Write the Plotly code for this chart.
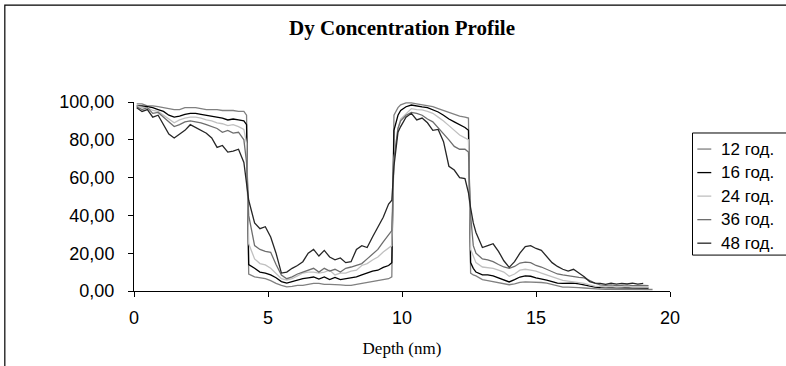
import plotly.graph_objects as go

# ---- data ----
depth = [0.1, 0.3, 0.5, 0.7, 0.9, 1.1, 1.3, 1.5, 1.7, 1.9, 2.1, 2.3, 2.5, 2.7, 2.9, 3.1, 3.3, 3.5, 3.7, 3.9, 4.1,
         4.2, 4.28,
         4.5, 4.7, 4.9, 5.1, 5.3, 5.5, 5.7, 5.9, 6.1, 6.3, 6.5, 6.7, 6.9, 7.1, 7.3, 7.5, 7.7, 7.9, 8.1, 8.3, 8.5,
         8.7, 8.9, 9.1, 9.3, 9.5,
         9.62, 9.7, 9.85,
         9.95, 10.15, 10.35, 10.55, 10.75, 10.95, 11.15, 11.35, 11.55, 11.75, 11.95, 12.15, 12.35,
         12.48, 12.56, 12.66, 12.76,
         13.0, 13.2, 13.4, 13.6, 13.8, 14.0, 14.2, 14.4, 14.6, 14.8, 15.0, 15.2, 15.4, 15.6, 15.8, 16.0, 16.2,
         16.4, 16.6, 16.8, 17.0, 17.2, 17.4, 17.6, 17.8, 18.0, 18.2, 18.4, 18.6, 18.8, 19.0, 19.2,
         19.35]

h12 = [99, 99, 98, 98, 97.5, 97, 96.5, 96, 96, 97, 97, 97, 96.5, 96, 96, 96, 95.5, 95.5, 95.5, 95, 95,
       93, 9,
       7.5, 7, 6.5, 5.5, 4, 3, 2.2, 2.5, 3, 3, 3.5, 4, 4, 3.5, 3.5, 3.5, 3.2, 3, 3, 3.5, 4, 4.5, 5, 5.5, 6, 6.5,
       7.5, 93, 97,
       98.5, 99.5, 99.5, 99, 98.5, 98, 97.5, 96.5, 95.5, 94.5, 93.5, 92.5, 92,
       91.5, 9.5, 8.5, 8,
       6, 5.5, 5, 4.6, 4, 3.3, 3.8, 4.6, 4.8, 4.8, 4.6, 4.5, 4.2, 3.5, 2.4, 2, 2, 2, 1.8, 1.6, 1.3, 1, 1, 0.9,
       0.9, 0.8, 0.8, 0.8, 0.9, 0.8, 0.8, 0.8,
       0.8]

h16 = [98, 98, 97.5, 97, 96, 95, 93, 92, 92.5, 93.5, 94, 94, 93.5, 93, 92.5, 92, 91.5, 90.5, 91, 90.5, 90,
       88, 14,
       12, 10, 9.5, 8.5, 7, 5, 4.2, 5, 6, 6.5, 7, 7.4, 6.3, 7.4, 6, 7.2, 6, 6.5, 7.2, 7.5, 8.5, 9.5, 10.5, 11,
       12.5, 13.5,
       15, 85, 93,
       95.5, 97.5, 98.4, 97.8, 97.4, 97, 96, 94.7, 93, 91, 89.5, 88, 86.5,
       85, 15, 12, 10,
       8.5, 8.5, 8, 7, 6, 4.8, 6, 7.4, 8, 7.8, 7, 6.5, 5.8, 5, 4.2, 4, 4.2, 4.2, 3.8, 3.2, 2.5, 2, 1.8, 1.8,
       1.6, 1.6, 1.8, 1.6, 1.7, 1.5, 1.6, 1.5,
       None]

h24 = [98, 97, 97, 95.5, 95, 93, 91, 89, 90.5, 91.5, 92, 92, 91.5, 90.5, 90, 89, 88.5, 87.5, 88, 87, 85.5,
       78, 25,
       17, 14.5, 13.8, 12, 9, 6.5, 5.8, 6.5, 8, 9.5, 10, 10, 9.5, 10, 11, 8.5, 9.5, 9.5, 10.5, 11, 13.5, 14.5,
       16.4, 18, 20.6, 22.5,
       24, 70, 86,
       91, 94, 96.5, 96, 95.8, 95, 94, 92, 90, 87.5, 85, 82.5, 81,
       80, 22, 18, 15,
       12.7, 12.5, 12, 11, 10, 7.8, 9, 11, 11.5, 11, 10.5, 9.5, 8.5, 7.5, 6.2, 5.6, 5.2, 4.8, 4.5, 4, 3.2, 2.6,
       2.4, 2.2, 2.4, 2, 2.2, 2.4, 2, 2.2, 2.1, 2,
       None]

h36 = [97.5, 96, 97, 94, 94.5, 92, 89, 87, 88, 89.5, 90, 89.5, 89, 88, 87, 86, 84, 85, 83.5, 84, 80,
       68, 40,
       24, 22, 21, 20.5, 14, 8.5, 6.5, 7.5, 9, 10, 11, 12, 10, 12, 10.5, 11.5, 10, 12, 12.7, 13.5, 14.5, 17,
       19.5, 22, 26, 30,
       32, 70, 86,
       90, 93, 94.5, 94, 93, 91, 89.5, 86.5, 83.5, 80, 76.5, 75, 75,
       73.5, 40, 24, 20,
       17, 16.5, 15.5, 14, 12.7, 12, 13, 14.8, 15.3, 15, 13.5, 12.7, 11.5, 10, 9, 8.5, 8, 7.4, 7.2, 6.9, 5.5,
       4.2, 3.2, 3, 3.2, 2.8, 3, 3.2, 2.8, 3, 3, 2.8,
       None]

h48 = [97, 95, 96, 92, 93, 88, 83, 81, 83, 85, 88, 86.5, 85, 83.5, 81, 76, 77, 73.5, 74, 75, 68,
       57, 48,
       36, 33, 34, 28.6, 20, 9.5, 10, 12, 13.5, 15.5, 20, 22, 18.5, 21.5, 18, 16.5, 17.5, 15, 15.5, 22, 24, 23,
       28.6, 34, 39, 46,
       48, 66, 84,
       87, 92, 94, 90.5, 91.5, 89, 85, 85.5, 79, 66, 64, 60, 59.5,
       52, 44, 36, 31,
       23, 24, 25, 21, 16, 12.5, 15.5, 20, 23.5, 24, 22.5, 21.5, 18, 15, 13, 11.5, 10.5, 11.5, 9.5, 7.5, 5,
       4.2, 4, 3.5, 4.2, 3.6, 4, 3.8, 4.2, 3.6, 4, None,
       None]

series_names = ["12 год.", "16 год.", "24 год.", "36 год.", "48 год."]
series_values = [h12, h16, h24, h36, h48]
series_colors = ["#808080", "#000000", "#c0c0c0", "#6e6e6e", "#262626"]

x_ticks = [0, 5, 10, 15, 20]
y_ticks = [0, 20, 40, 60, 80, 100]

for v in series_values:
    assert len(v) == len(depth), (len(v), len(depth))

fig = go.Figure()
for name, vals, col in zip(series_names, series_values, series_colors):
    fig.add_trace(go.Scatter(x=depth, y=vals, mode="lines", name=name,
                             line=dict(color=col, width=1.3), showlegend=False,
                             connectgaps=False))

# ---- manual legend (Excel style box at right, partly cut) ----
leg_top = 0.836
leg_step = 0.1245
fig.add_shape(type="rect", xref="paper", yref="paper",
              x0=1.042, x1=1.26, y0=0.19, y1=leg_top,
              line=dict(color="#000000", width=1), fillcolor="white", layer="above")
for i, (name, col) in enumerate(zip(series_names, series_colors)):
    yy = leg_top - 0.085 - i * leg_step
    fig.add_shape(type="line", xref="paper", yref="paper",
                  x0=1.051, x1=1.077, y0=yy, y1=yy,
                  line=dict(color=col, width=1.3), layer="above")
    fig.add_annotation(xref="paper", yref="paper", x=1.092, y=yy, text=name,
                       showarrow=False, xanchor="left", yanchor="middle",
                       font=dict(family="Liberation Sans, Arial", size=17, color="#000"))

# ---- outer chart frame (top and left visible) ----
fig.add_shape(type="rect", xref="paper", yref="paper",
              x0=-0.241, x1=1.3, y0=-0.5, y1=1.513,
              line=dict(color="#000000", width=1.2), layer="below")

fig.update_layout(
    width=786, height=366,
    margin=dict(l=134, r=116, t=102, b=75),
    paper_bgcolor="white", plot_bgcolor="white",
    separators=", ",
    title=dict(text="<b>Dy Concentration Profile</b>", x=0.5, xref="paper",
               y=1 - 28 / 366, yref="container", xanchor="center", yanchor="middle",
               font=dict(family="Liberation Serif, Times New Roman", size=21, color="#000")),
    xaxis=dict(range=[0, 20], tickvals=x_ticks, showgrid=False, zeroline=False,
               showline=True, linecolor="#000", linewidth=1,
               ticks="outside", ticklen=5, tickcolor="#000", ticklabelstandoff=5,
               tickfont=dict(family="Liberation Sans, Arial", size=18, color="#000"),
               title=dict(text="Depth (nm)", standoff=15,
                          font=dict(family="Liberation Serif, Times New Roman", size=17, color="#000"))),
    yaxis=dict(range=[0, 100], tickvals=y_ticks, tickformat=".2f", showgrid=False, zeroline=False,
               showline=True, linecolor="#000", linewidth=1,
               ticks="outside", ticklen=5, tickcolor="#000", ticklabelstandoff=10,
               tickfont=dict(family="Liberation Sans, Arial", size=18, color="#000")),
)

fig.write_html("out.html")
